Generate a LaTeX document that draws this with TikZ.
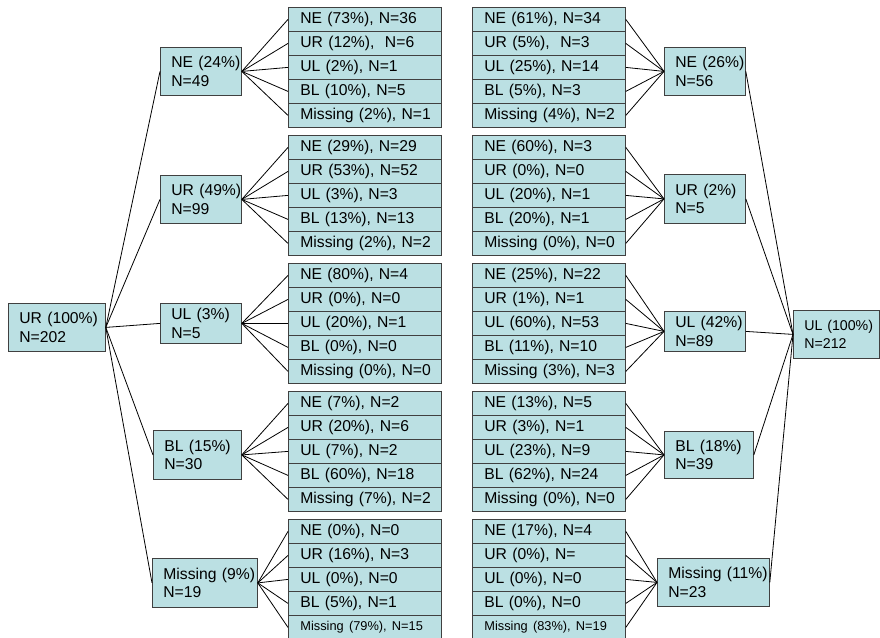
\documentclass[tikz,border=0pt]{standalone}
\usepackage{fontspec}
\setmainfont{Liberation Sans}
\definecolor{boxfill}{RGB}{187,224,227}
\definecolor{boxline}{RGB}{64,64,64}

\begin{document}
\begin{tikzpicture}[x=1pt, y=-1pt,
    cat/.style 2 args={draw=boxline, line width=0.8pt, fill=boxfill, anchor=north west,
                  inner xsep=11pt, inner ysep=0pt, text width=#1, minimum height=#2,
                  align=left, font=\fontsize{15.7}{18.4}\selectfont},
    leaf/.style={draw=boxline, line width=0.8pt, fill=boxfill, anchor=north west,
                 inner xsep=12pt, inner ysep=0pt, text width=129pt, minimum height=24pt,
                 align=left, font=\fontsize{15.7}{18}\selectfont},
    link/.style={black, line width=0.8pt},
]
    \useasboundingbox (0,0) rectangle (880,637);

    % left tree
    \node[cat={75pt}{48pt}] (root) at (8,303) {UR~(100\%)\\N=202};
    \node[cat={59pt}{48pt}] (ne) at (160,47) {NE~(24\%)\\N=49};
    \node[cat={59pt}{48pt}] (ur) at (160,175) {UR~(49\%)\\N=99};
    \node[cat={59pt}{40pt}] (ul) at (160,303) {UL~(3\%)\\N=5};
    \node[cat={66pt}{49pt}] (bl) at (153,430) {BL~(15\%)\\N=30};
    \node[cat={83pt}{49pt}] (ms) at (152,558) {Missing~(9\%)\\N=19};

    \foreach \t [count=\i] in {
        {NE (73\%), N=36}, {UR (12\%),~ N=6}, {UL (2\%), N=1}, {BL (10\%), N=5}, {Missing (2\%), N=1},
        {NE (29\%), N=29}, {UR (53\%), N=52}, {UL (3\%), N=3}, {BL (13\%), N=13}, {Missing (2\%), N=2},
        {NE (80\%), N=4}, {UR (0\%), N=0}, {UL (20\%), N=1}, {BL (0\%), N=0}, {Missing (0\%), N=0},
        {NE (7\%), N=2}, {UR (20\%), N=6}, {UL (7\%), N=2}, {BL (60\%), N=18}, {Missing (7\%), N=2},
        {NE (0\%), N=0}, {UR (16\%), N=3}, {UL (0\%), N=0}, {BL (5\%), N=1},
        {\fontsize{12.8}{15}\selectfont Missing (79\%), N=15}} {
        \pgfmathsetmacro\yy{7+128*div(\i-1,5)+24*mod(\i-1,5)}
        \node[leaf] (L\i) at (288,\yy) {\mbox{\t}};
    }

    % right tree
    \node[cat={64pt}{48pt}, font=\fontsize{14.2}{18.5}\selectfont] (rroot) at (793,310) {UL~(100\%)\\N=212};
    \node[cat={59pt}{48pt}] (rne) at (664,47) {NE~(26\%)\\N=56};
    \node[cat={59pt}{49pt}] (rur) at (664,174) {UR~(2\%)\\N=5};
    \node[cat={59pt}{40pt}] (rul) at (664,311) {UL~(42\%)\\N=89};
    \node[cat={67pt}{47pt}] (rbl) at (664,431) {BL~(18\%)\\N=39};
    \node[cat={90pt}{48pt}] (rms) at (657,558) {Missing~(11\%)\\N=23};

    \foreach \t [count=\i] in {
        {NE (61\%), N=34}, {UR (5\%),~ N=3}, {UL (25\%), N=14}, {BL (5\%), N=3}, {Missing (4\%), N=2},
        {NE (60\%), N=3}, {UR (0\%), N=0}, {UL (20\%), N=1}, {BL (20\%), N=1}, {Missing (0\%), N=0},
        {NE (25\%), N=22}, {UR (1\%), N=1}, {UL (60\%), N=53}, {BL (11\%), N=10}, {Missing (3\%), N=3},
        {NE (13\%), N=5}, {UR (3\%), N=1}, {UL (23\%), N=9}, {BL (62\%), N=24}, {Missing (0\%), N=0},
        {NE (17\%), N=4}, {UR (0\%), N=}, {UL (0\%), N=0}, {BL (0\%), N=0},
        {\fontsize{12.8}{15}\selectfont Missing (83\%), N=19}} {
        \pgfmathsetmacro\yy{7+128*div(\i-1,5)+24*mod(\i-1,5)}
        \node[leaf] (R\i) at (472,\yy) {\mbox{\t}};
    }

    % connectors
    \foreach \p [count=\g from 0] in {ne,ur,ul,bl,ms} {
        \draw[link] (root.east) -- (\p.west);
        \foreach \r in {1,...,5} {
            \pgfmathtruncatemacro\i{5*\g+\r}
            \draw[link] (\p.east) -- (L\i.west);
        }
    }
    \foreach \p [count=\g from 0] in {rne,rur,rul,rbl,rms} {
        \draw[link] (rroot.west) -- (\p.east);
        \foreach \r in {1,...,5} {
            \pgfmathtruncatemacro\i{5*\g+\r}
            \draw[link] (\p.west) -- (R\i.east);
        }
    }
\end{tikzpicture}
\end{document}
